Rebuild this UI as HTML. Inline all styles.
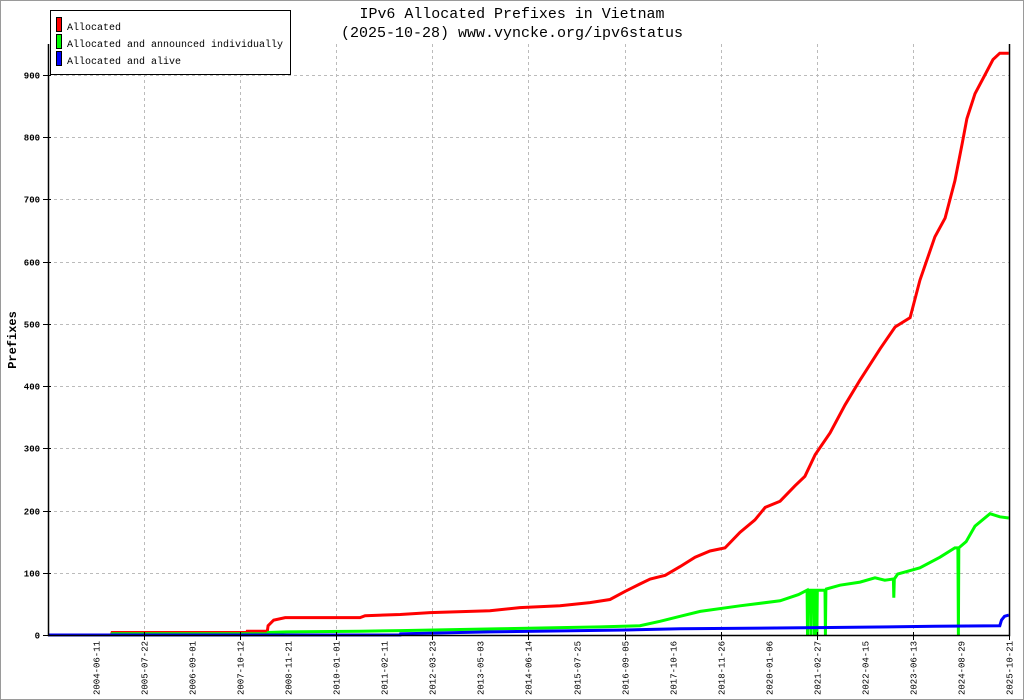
<!DOCTYPE html>
<html><head><meta charset="utf-8"><style>
html,body{margin:0;padding:0;background:#fff;}
svg{display:block;font-family:"Liberation Mono","DejaVu Sans Mono",monospace;}
</style></head><body>
<svg id="chart" width="1024" height="700" viewBox="0 0 1024 700" xmlns="http://www.w3.org/2000/svg">
<rect x="0.5" y="0.5" width="1023" height="699" fill="#fff" stroke="#9a9a9a"/>
<g id="grid"></g>
<g id="series"></g>
<g id="axes"></g>
<text x="512" y="18" text-anchor="middle" font-size="15" textLength="305" lengthAdjust="spacingAndGlyphs">IPv6 Allocated Prefixes in Vietnam</text>
<text x="512" y="37" text-anchor="middle" font-size="15" textLength="342" lengthAdjust="spacingAndGlyphs">(2025-10-28) www.vyncke.org/ipv6status</text>
<text transform="translate(16,340) rotate(-90)" text-anchor="middle" font-size="12" font-weight="bold">Prefixes</text>
<g>
<rect x="50.5" y="10.5" width="240" height="64" fill="#fff" stroke="#000"/>
<g><rect x="56.5" y="17.5" width="5" height="14" fill="#f00" stroke="#000"/><text x="67" y="30" font-size="10" textLength="54" lengthAdjust="spacingAndGlyphs">Allocated</text></g>
<g><rect x="56.5" y="34.5" width="5" height="14" fill="#0f0" stroke="#000"/><text x="67" y="47" font-size="10" textLength="216" lengthAdjust="spacingAndGlyphs">Allocated and announced individually</text></g>
<g><rect x="56.5" y="51.5" width="5" height="14" fill="#00f" stroke="#000"/><text x="67" y="64" font-size="10" textLength="114" lengthAdjust="spacingAndGlyphs">Allocated and alive</text></g>
</g>
</svg>
<script>
const xLabels=["2004-06-11","2005-07-22","2006-09-01","2007-10-12","2008-11-21","2010-01-01","2011-02-11","2012-03-23","2013-05-03","2014-06-14","2015-07-25","2016-09-05","2017-10-16","2018-11-26","2020-01-06","2021-02-27","2022-04-15","2023-06-13","2024-08-29","2025-10-21"];
const yTicks=[0,100,200,300,400,500,600,700,800,900];
const allocYears=[2003.32,2004.80,2004.82,2007.97,2007.98,2008.45,2008.47,2008.60,2008.87,2010.62,2010.74,2011.56,2012.26,2013.66,2014.36,2015.30,2016.00,2016.47,2016.82,2017.17,2017.41,2017.76,2018.11,2018.46,2018.81,2019.16,2019.51,2019.86,2020.10,2020.45,2020.80,2021.03,2021.27,2021.62,2021.97,2022.32,2022.79,2023.14,2023.49,2023.72,2024.07,2024.31,2024.54,2024.71,2024.82,2025.01,2025.24,2025.43,2025.59,2025.80];
const allocVals=[0,0,4,4,6,6,15,24,28,28,31,33,36,39,44,47,52,57,70,82,90,96,110,125,135,140,165,185,205,215,240,255,290,325,370,410,460,495,510,570,640,670,730,790,830,870,900,925,935,935];
const annYears=[2003.32,2004.80,2004.82,2008.45,2008.47,2008.90,2010.62,2011.56,2013.90,2016.24,2017.17,2017.64,2018.11,2018.58,2019.51,2020.45,2020.88,2021.08,2021.09,2021.10,2021.16,2021.17,2021.18,2021.24,2021.25,2021.26,2021.30,2021.31,2021.32,2021.50,2021.51,2021.52,2021.53,2021.85,2022.32,2022.67,2022.90,2023.10,2023.11,2023.12,2023.20,2023.72,2024.19,2024.54,2024.61,2024.62,2024.63,2024.80,2025.01,2025.36,2025.59,2025.80];
const annVals=[0,0,2,2,4,5,6,7,10,13,15,22,30,38,47,55,65,72,0,72,72,0,72,72,0,72,72,0,72,72,0,72,74,80,85,92,88,90,60,90,98,108,125,140,140,0,140,150,175,195,190,188];
const aliveYears=[2003.32,2011.56,2011.57,2013.66,2016.82,2018.11,2021.62,2024.07,2025.59,2025.63,2025.70,2025.80];
const aliveVals=[0,0,2,5,8,10,12,14,15,24,30,32];

const NS="http://www.w3.org/2000/svg";
const X0=48,X1=1009,Y0=635,PX_PER_YR=42.74,YR_AT_X0=2003.32;
const xScale=y=>X0+(y-YR_AT_X0)*PX_PER_YR;
const yScale=v=>Y0-v*0.6222;
function mk(tag,attrs,parent){const e=document.createElementNS(NS,tag);for(const k in attrs)e.setAttribute(k,attrs[k]);parent.appendChild(e);return e;}
const grid=document.getElementById('grid'),axes=document.getElementById('axes'),series=document.getElementById('series');
yTicks.forEach(t=>{
  const y=Math.round(yScale(t))+0.5;
  if(t>0){const g=mk('line',{x1:X0,x2:X1,y1:y,y2:y,stroke:'#bbb','stroke-dasharray':'3,3'},grid);
  
  }
  const tk=mk('line',{x1:X0-5,x2:X0+3,y1:y,y2:y,stroke:'#000'},axes);
  
  
  const tx=mk('text',{x:X0-8,y:y+3,'text-anchor':'end','font-size':'9','font-weight':'bold'},axes);
  tx.textContent=t;
  
  
});
const step=(X1-96)/(xLabels.length-1);
xLabels.forEach((l,i)=>{
  const x=Math.round(96+i*step)+0.5;
  if(i%2===1){const g=mk('line',{x1:x,x2:x,y1:44,y2:Y0,stroke:'#bbb','stroke-dasharray':'3,3'},grid);
  
  
  const tk=mk('line',{x1:x,x2:x,y1:Y0-3,y2:Y0+5,stroke:'#000'},axes);
  
  }
  const tx=mk('text',{transform:`translate(${x+3},${Y0+60}) rotate(-90)`,'font-size':'9','text-anchor':'start'},axes);
  tx.textContent=l;
  
  
});
const ax=mk('path',{d:`M${X0+0.5},44V${Y0+0.5}H${X1+0.5}V44`,fill:'none',stroke:'#000','stroke-width':'1.5'},axes);


function drawSeries(xs,vs,color,name){
  let d='';
  xs.forEach((yr,i)=>{const x=xScale(yr).toFixed(1),y=yScale(vs[i]).toFixed(1);d+=(i?'L':'M')+x+','+y;});
  const p=mk('path',{d:d,fill:'none',stroke:color,'stroke-width':'3','stroke-linejoin':'miter'},series);
  
  
}
drawSeries(allocYears,allocVals,'#f00','series-allocated');
drawSeries(annYears,annVals,'#0f0','series-announced');
drawSeries(aliveYears,aliveVals,'#00f','series-alive');
</script>
</body></html>
